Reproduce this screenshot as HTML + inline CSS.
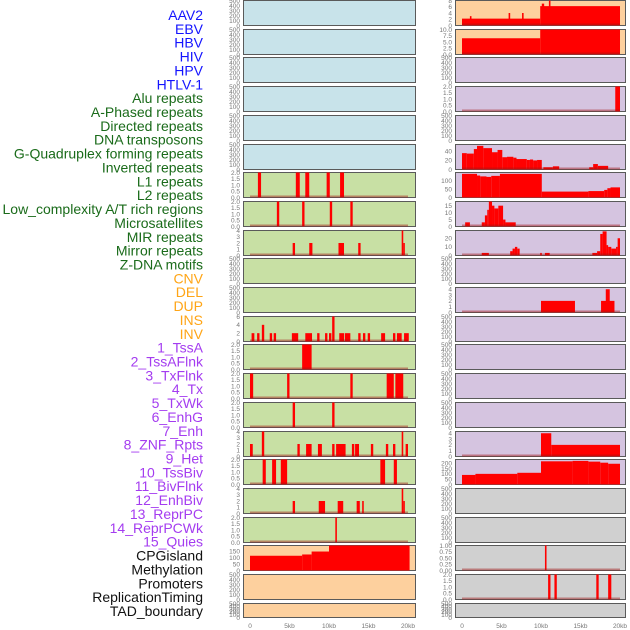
<!DOCTYPE html>
<html><head><meta charset="utf-8"><style>
body{margin:0;background:#fff;width:630px;height:630px;overflow:hidden}
svg{display:block}
.lab{font-family:"Liberation Sans",sans-serif;font-size:14px}
.tk{font-family:"Liberation Sans",sans-serif;font-size:6.5px;fill:#777}
</style></head><body>
<svg id="c" width="630" height="630" xmlns="http://www.w3.org/2000/svg"></svg>
<script>
const trackLabels=["AAV2","EBV","HBV","HIV","HPV","HTLV-1","Alu repeats","A-Phased repeats","Directed repeats","DNA transposons","G-Quadruplex forming repeats","Inverted repeats","L1 repeats","L2 repeats","Low_complexity A/T rich regions","Microsatellites","MIR repeats","Mirror repeats","Z-DNA motifs","CNV","DEL","DUP","INS","INV","1_TssA","2_TssAFlnk","3_TxFlnk","4_Tx","5_TxWk","6_EnhG","7_Enh","8_ZNF_Rpts","9_Het","10_TssBiv","11_BivFlnk","12_EnhBiv","13_ReprPC","14_ReprPCWk","15_Quies","CPGisland","Methylation","Promoters","ReplicationTiming","TAD_boundary"];
const labelGroups=[6,13,5,15,5];
const groupColors=["#1414ff","#1a6b1a","#ffa516","#a43cf0","#111"];
const xTicks=[0,5,10,15,20];
const xTickLabels=["0","5kb","10kb","15kb","20kb"];
const T500=[0,100,200,300,400,500],T2=[0,0.5,1,1.5,2],T4=[0,1,2,3,4];
const leftBg=["b","b","b","b","b","b","g","g","g","g","g","g","g","g","g","g","g","g","g","o","o","o"];
const rightBg=["o","o","p","p","p","p","p","p","p","p","p","p","p","p","p","p","p","y","y","y","y","y"];
const leftYMax=[500,500,500,500,500,500,2,2,4,500,500,6,2,2,2,4,2,4,2,195,500,500];
const rightYMax=[8,10,500,2,500,55,148,18,29,500,4.3,500,500,500,500,4.3,235,500,500,1,2,500];
const leftTicks=[T500,T500,T500,T500,T500,T500,T2,T2,T4,T500,T500,[0,2,4,6],T2,T2,T2,T4,T2,T4,T2,[0,50,100,150],T500,T500];
const rightTicks=[[0,2,4,6,8],[0,2.5,5,7.5,10],T500,T2,T500,[0,20,40],[0,50,100],[0,5,10,15],[0,10,20],T500,T4,T500,T500,T500,T500,T4,[0,50,100,150,200],T500,T500,[0,0.25,0.5,0.75,1],T2,T500];
const leftBars=[[],[],[],[],[],[],
[[1.0,1.4,2],[5.8,6.3,2],[7.0,7.5,2],[9.7,10.1,2],[11.4,11.9,2]],
[[3.4,3.7,2],[6.6,6.9,2],[10.1,10.4,2],[12.7,13.0,2]],
[[5.4,5.7,2],[7.5,7.9,2],[11.2,11.9,2],[13.7,14.0,2],[19.2,19.4,4],[19.4,19.6,2]],
[],[],
[[0.2,0.55,2],[0.9,1.2,2],[1.5,1.8,4],[2.5,2.8,2],[3.0,3.3,2],[5.3,6.1,2],[7.0,7.85,2],[8.5,8.8,2],[9.5,9.8,2],[10.0,10.3,2],[10.4,10.7,6],[11.3,11.9,2],[12.0,12.7,2],[13.7,14.0,2],[14.3,14.6,2],[14.9,15.2,2],[16.6,17.1,2],[18.1,18.4,2],[18.6,19.2,2],[19.5,20.1,2]],
[[6.6,7.8,2]],
[[0.0,0.4,2],[4.7,5.0,2],[12.7,13.0,2],[17.3,18.2,2],[18.4,19.4,2]],
[[5.4,5.7,2],[10.4,10.7,2]],
[[0.0,0.35,2],[1.5,1.8,4],[6.0,6.3,2],[7.1,7.8,2],[8.6,9.1,2],[10.4,10.7,2],[10.9,12.1,2],[12.9,13.2,2],[13.3,13.8,2],[15.3,15.6,2],[17.2,17.5,2],[18.1,18.4,2],[19.2,19.4,4],[19.7,20.0,2]],
[[1.6,2.0,2],[2.8,3.3,2],[3.9,4.7,2],[16.5,17.1,2],[18.2,18.6,2]],
[[5.4,5.7,2],[8.7,9.5,2],[11.1,11.8,2],[13.5,13.9,2],[14.2,14.4,2],[19.2,19.4,4],[19.4,19.6,2]],
[[10.8,11.0,2]],
[[0,6.6,115],[6.6,7.8,125],[7.8,10.0,148],[10.0,20.2,195]],
[],[]];
const rightBars=[
[[0,9.9,2.2],[1.0,1.2,3],[5.9,6.1,4],[7.6,7.8,4],[9.9,20,6.2],[10.1,10.4,7],[11.0,11.2,8]],
[[0,9.9,6.5],[9.9,20,10]],
[],
[[19.4,20,2]],
[],
[[0,0.6,36],[0.6,1.5,35],[1.5,1.9,45],[1.9,2.7,52],[2.7,3.8,47],[3.8,4.5,38],[4.5,5.1,43],[5.1,5.7,27],[5.7,6.5,28],[6.5,6.9,26],[6.9,8.2,23],[8.2,8.6,21],[8.6,9.0,22],[9.0,9.5,20],[9.5,10.1,21],[10.3,11.5,5],[11.5,12.3,7],[16.1,16.6,5],[16.6,17.2,12],[17.2,18.5,8]],
[[0,1.9,140],[1.9,2.3,130],[2.3,3.1,125],[3.1,3.7,122],[3.7,4.8,128],[4.8,10.1,140],[10.1,16.0,35],[16.0,18.0,38],[18.0,18.4,45],[18.4,18.8,55],[18.8,20,60]],
[[0.4,1.0,3],[2.5,2.9,3],[2.9,3.2,8],[3.2,3.4,12],[3.4,3.8,18],[3.8,4.1,15],[4.1,4.6,13],[4.6,5.2,15],[5.2,5.5,5],[5.5,6.8,3]],
[[2.5,3.4,3],[6.1,6.4,5],[6.4,6.7,8],[6.7,7.0,10],[7.0,7.3,8],[9.9,10.1,3],[10.5,11.1,3],[16.5,17.1,3],[17.1,17.5,5],[17.5,17.8,25],[17.8,18.3,28],[18.3,18.5,12],[18.5,18.9,10],[18.9,19.5,8],[19.5,19.7,10],[19.7,20,20]],
[],
[[10,14.3,2],[17.6,19.3,2],[18.2,18.7,4]],
[],[],[],[],
[[10,11.3,4],[11.3,20,2]],
[[0,1.7,90],[1.7,7,100],[7,10,110],[10,14,218],[14,16,222],[16,17.5,215],[17.5,18.5,205],[18.5,20,195]],
[],[],
[[10.5,10.7,1]],
[[10.9,11.2,2],[11.7,12.0,2],[17.0,17.3,2],[18.5,18.9,2]],
[]];

const NS="http://www.w3.org/2000/svg";
const svg=document.getElementById('c');
function mk(t,a,p){const e=document.createElementNS(NS,t);for(const k in a)e.setAttribute(k,a[k]);(p||svg).appendChild(e);return e;}
const bgColor={b:"#c8e3ea",g:"#c8e0a4",o:"#fdd09e",p:"#d5c4e0",y:"#d0d0d0"};
let li=0;
labelGroups.forEach((n,g)=>{for(let k=0;k<n;k++){const t=mk('text',{x:203,y:20+li*13.86,'text-anchor':'end',class:'lab',fill:groupColors[g]});t.textContent=trackLabels[li];


li++;}});
function panel(side,i,bg,ymax,ticks,bars){
  const x0=side?455:243,x1=side?626:416;
  const top=Math.round(i*28.7),h=(i==21)?14:25;
  const g=mk('g',{});
  
  
  mk('rect',{x:x0+0.5,y:top+0.5,width:x1-x0-1,height:h,fill:bgColor[bg],stroke:'#5a5a5a','stroke-width':1},g);
  const sx=v=>x0+7+v*7.9;
  const sy=v=>top+h+0.5-v/ymax*h;
  ticks.forEach(tv=>{const t=mk('text',{x:x0-3,y:sy(tv)+2.3,'text-anchor':'end',class:'tk'},g);
    t.textContent=(ymax==2&&tv==2)?"2.0":(ymax==2||ymax==10||ymax==1)?(ymax==1?tv.toFixed(2):tv.toFixed(1)):String(tv);});
  bars.forEach(b=>{const r=mk('rect',{x:sx(b[0]),y:sy(b[2]),width:Math.max(1.5,sx(b[1])-sx(b[0])),height:top+h+0.5-sy(b[2]),fill:'#ff0000'},g);
    
    });
  if(bars.length&&ymax<100) mk('line',{x1:sx(0),x2:sx(20),y1:top+h-0.5,y2:top+h-0.5,stroke:'rgba(160,20,20,0.45)','stroke-width':2},g);
}
for(let i=0;i<22;i++){panel(0,i,leftBg[i],leftYMax[i],leftTicks[i],leftBars[i]);panel(1,i,rightBg[i],rightYMax[i],rightTicks[i],rightBars[i]);}
[0,1].forEach(side=>{xTicks.forEach((v,k)=>{const t=mk('text',{x:(side?462:250)+v*7.9,y:628,'text-anchor':'middle',class:'tk'});t.textContent=xTickLabels[k];

});});
</script>
</body></html>
